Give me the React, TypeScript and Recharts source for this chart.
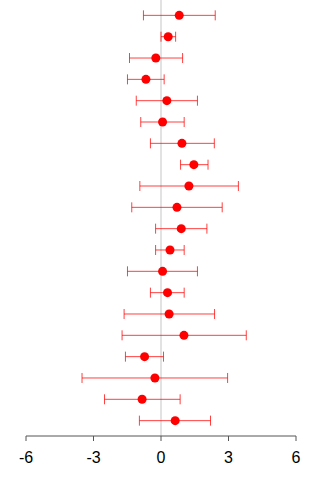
import { ComposedChart, ErrorBar, ReferenceLine, Scatter, XAxis, YAxis } from "recharts";

// one row per study, top to bottom
const estimates = [0.81, 0.32, -0.23, -0.67, 0.26, 0.07, 0.93, 1.46, 1.24, 0.71, 0.9, 0.4, 0.07, 0.29, 0.36, 1.02, -0.73, -0.27, -0.84, 0.63];
const lowers = [-0.78, 0.0, -1.4, -1.49, -1.1, -0.9, -0.47, 0.87, -0.94, -1.3, -0.24, -0.24, -1.49, -0.47, -1.64, -1.73, -1.58, -3.51, -2.51, -0.96];
const uppers = [2.41, 0.65, 0.96, 0.14, 1.62, 1.03, 2.37, 2.09, 3.44, 2.72, 2.04, 1.03, 1.62, 1.03, 2.38, 3.79, 0.11, 2.96, 0.85, 2.2];
const xTicks = [-6, -3, 0, 3, 6];

const rows = estimates.map((est, i) => ({
  row: i + 1,
  est,
  ci: [est - lowers[i], uppers[i] - est],
}));

export default function App() {
  return (
    <div style={{ position: "absolute", left: 0, top: 0 }}>
      <ComposedChart width={320} height={480} data={rows} margin={{ top: 0, right: 24, left: 26, bottom: 14 }}>
        <XAxis
          type="number"
          dataKey="est"
          domain={[-6, 6]}
          ticks={xTicks}
          height={30}
          tickSize={5}
          tickMargin={11}
          stroke="#555"
          tick={{ fill: "#000", fontSize: 16, fontFamily: "Liberation Sans, Arial, sans-serif" }}
        />
        <YAxis type="number" dataKey="row" domain={[0.28, 20.72]} reversed hide />
        <ReferenceLine x={0} stroke="#e2e2e2" strokeWidth={2} />
        <Scatter data={rows} dataKey="row" fill="red" isAnimationActive={false}>
          <ErrorBar dataKey="ci" direction="x" width={5} stroke="red" strokeOpacity={0.75} strokeWidth={1} isAnimationActive={false} />
        </Scatter>
      </ComposedChart>
    </div>
  );
}
